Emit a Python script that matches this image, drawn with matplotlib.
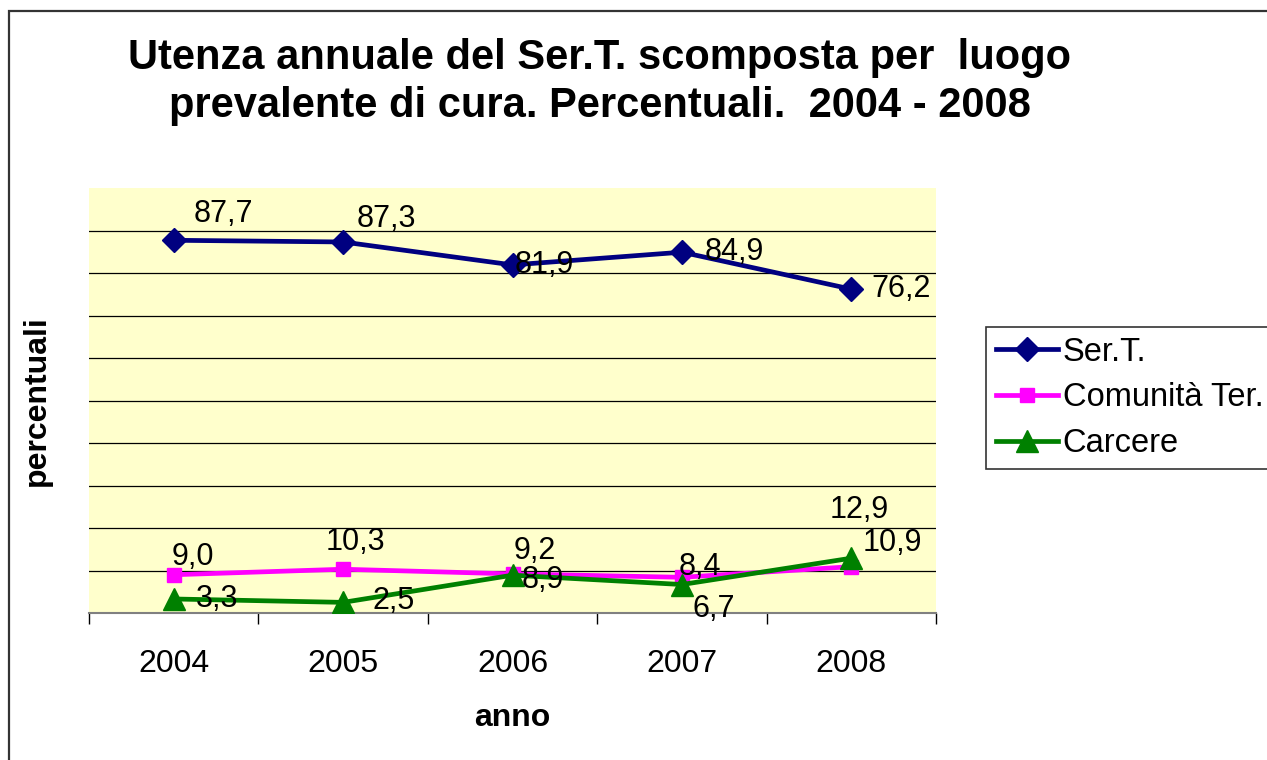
'''
Utenza annuale del Ser.T. per luogo prevalente di cura, 2004-2008
'''

import matplotlib
matplotlib.use("Agg")
import matplotlib.pyplot as plt
import numpy as np
from matplotlib.patches import Rectangle

plt.rcParams["font.family"] = ["Liberation Sans", "DejaVu Sans"]

anni = ["2004", "2005", "2006", "2007", "2008"]
sert = [87.7, 87.3, 81.9, 84.9, 76.2]
comunita = [9.0, 10.3, 9.2, 8.4, 10.9]
carcere = [3.3, 2.5, 8.9, 6.7, 12.9]
etichette_sert = ["87,7", "87,3", "81,9", "84,9", "76,2"]
etichette_comunita = ["9,0", "10,3", "9,2", "8,4", "10,9"]
etichette_carcere = ["3,3", "2,5", "8,9", "6,7", "12,9"]

# label offsets in pixels (left edge of text, vertical centre) as placed in the original
off_sert = [(20, 26), (14, 23), (2, 0), (23, 0), (20, 0)]
off_comunita = [(-2, 18), (-17, 27), (1, 23), (-3, 10), (11, 24)]
off_carcere = [(22, 0), (29, 1), (9, -5), (11, -24), (-22, 48)]

fig = plt.figure(figsize=(12.67, 7.6), dpi=100)
ax = fig.add_axes([89 / 1267, 147 / 760, 847 / 1267, 425 / 760])
ax.set_facecolor("#FFFFCC")

x = np.arange(len(anni))
series = [
    ("Ser.T.", sert, etichette_sert, off_sert, "#000080", "D", 12),
    ("Comunità Ter.", comunita, etichette_comunita, off_comunita, "#FF00FF", "s", 10),
    ("Carcere", carcere, etichette_carcere, off_carcere, "#008000", "^", 16),
]
for name, vals, labels, offs, col, mk, ms in series:
    ax.plot(x, vals, color=col, lw=3.4, marker=mk, ms=ms, label=name, zorder=3)
    for xi, v, lab, (dx, dy) in zip(x, vals, labels, offs):
        ax.annotate(lab, (xi, v), xytext=(dx, dy), textcoords="offset pixels",
                    ha="left", va="center", fontsize=22, zorder=4)

ax.set_xlim(-0.5, len(anni) - 0.5)
ax.set_ylim(0, 100)
ax.set_yticks(np.arange(10, 100, 10))
ax.yaxis.grid(True, color="black", lw=0.9)
ax.set_axisbelow(True)
ax.tick_params(axis="y", length=0, labelleft=False)
ax.set_xticks(x)
ax.set_xticklabels(anni, fontsize=23)
ax.set_xticks(np.arange(-0.5, len(anni), 1), minor=True)
ax.tick_params(axis="x", which="major", length=0, pad=26)
ax.tick_params(axis="x", which="minor", length=8, width=1, color="black")
for s in ["left", "right", "top"]:
    ax.spines[s].set_visible(False)
ax.spines["bottom"].set_color("#808080")
ax.spines["bottom"].set_linewidth(1.5)

ax.set_xlabel("anno", fontsize=23, fontweight="bold", labelpad=17)
ax.set_ylabel("percentuali", fontsize=23, fontweight="bold", labelpad=27)

fig.text(600 / 1267, 1 - 82 / 760,
         "Utenza annuale del Ser.T. scomposta per  luogo\nprevalente di cura. Percentuali.  2004 - 2008",
         ha="center", va="center", fontsize=30, fontweight="bold", linespacing=1.25)

leg = ax.legend(loc="upper left", bbox_to_anchor=(986 / 1267, 1 - 327 / 760),
                bbox_transform=fig.transFigure, fontsize=23.5, frameon=True, fancybox=False,
                edgecolor="black", handlelength=1.9, handletextpad=0.15, borderpad=0.3,
                labelspacing=0.45, borderaxespad=0)
leg.get_frame().set_linewidth(1.2)

fig.add_artist(Rectangle((9 / 1267, -0.1), 1.2, 1.1 - 11 / 760, transform=fig.transFigure,
                         fill=False, edgecolor="#333333", lw=1.6))

fig.savefig("out.png", dpi=100)
